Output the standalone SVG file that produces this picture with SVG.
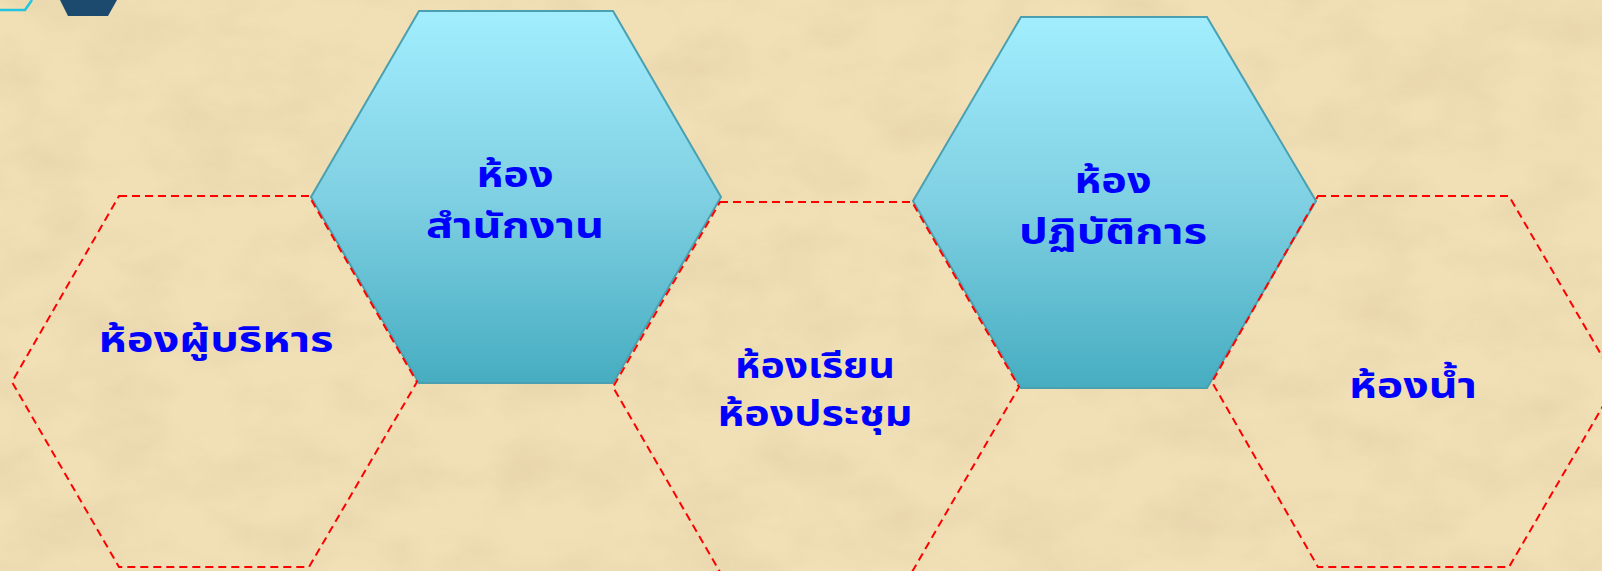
<svg xmlns="http://www.w3.org/2000/svg" width="1602" height="571" viewBox="0 0 1602 571">
  <style>
    .solid { fill: url(#blueGrad); stroke: #4a9fb0; stroke-width: 2; }
    .dash { fill: none; stroke: #ff0000; stroke-width: 2; stroke-dasharray: 8 5; }
    .lbl { font-family: Tahoma, "Noto Sans Thai", "Noto Sans", "DejaVu Sans", sans-serif; font-size: 35px; font-weight: bold; fill: #0000ff; text-anchor: middle; }
  </style>
  <defs>
    <linearGradient id="blueGrad" x1="0" y1="0" x2="0" y2="1">
      <stop offset="0" stop-color="#a2eeff"/>
      <stop offset="0.5" stop-color="#7fd0e2"/>
      <stop offset="1" stop-color="#47adc1"/>
    </linearGradient>
    <filter id="paper" x="0" y="0" width="100%" height="100%">
      <feTurbulence type="fractalNoise" baseFrequency="0.012 0.02" numOctaves="5" seed="7" result="n"/>
      <feColorMatrix in="n" type="matrix" values="0 0 0 0 0.72  0 0 0 0 0.58  0 0 0 0 0.36  0 0 0 1.3 -0.45"/>
    </filter>
  </defs>
  <g id="background">
    <rect x="0" y="0" width="1602" height="571" fill="#f1e0b6"/>
    <rect x="0" y="0" width="1602" height="571" filter="url(#paper)" opacity="0.6"/>
    <polyline points="0,10 25,10 32,0" fill="none" stroke="#22c4de" stroke-width="2.5"/>
    <polygon points="60,0 117,0 108,16 68,16" fill="#1b4a6e"/>
  </g>
  <g id="node-office">
    <polygon class="solid" points="419,11 613,11 721,197 613,383 419,383 311,197"/>
    <text class="lbl"><tspan x="515" y="187" textLength="77" lengthAdjust="spacingAndGlyphs">ห้อง</tspan><tspan x="515" y="238" textLength="178" lengthAdjust="spacingAndGlyphs">สำนักงาน</tspan></text>
  </g>
  <g id="node-lab">
    <polygon class="solid" points="1021,17 1207,17 1316,201 1207,388 1021,388 913,201"/>
    <text class="lbl"><tspan x="1113" y="193" textLength="77" lengthAdjust="spacingAndGlyphs">ห้อง</tspan><tspan x="1113" y="244" textLength="188" lengthAdjust="spacingAndGlyphs">ปฏิบัติการ</tspan></text>
  </g>
  <g id="node-executive">
    <polygon class="dash" points="119,196 309,196 417,382 309,567 119,567 12,382"/>
    <text class="lbl" x="216" y="352" textLength="235" lengthAdjust="spacingAndGlyphs">ห้องผู้บริหาร</text>
  </g>
  <g id="node-classroom">
    <polygon class="dash" points="720,202 912,202 1019,387 912,572 720,572 613,387"/>
    <text class="lbl"><tspan x="815" y="378" textLength="160" lengthAdjust="spacingAndGlyphs">ห้องเรียน</tspan><tspan x="815" y="426" textLength="195" lengthAdjust="spacingAndGlyphs">ห้องประชุม</tspan></text>
  </g>
  <g id="node-restroom">
    <polygon class="dash" points="1318,196 1509,196 1617,382 1509,567 1318,567 1212,382"/>
    <text class="lbl" x="1413" y="398" textLength="128" lengthAdjust="spacingAndGlyphs">ห้องน้ำ</text>
  </g>
  <g id="connectors"/>
</svg>
